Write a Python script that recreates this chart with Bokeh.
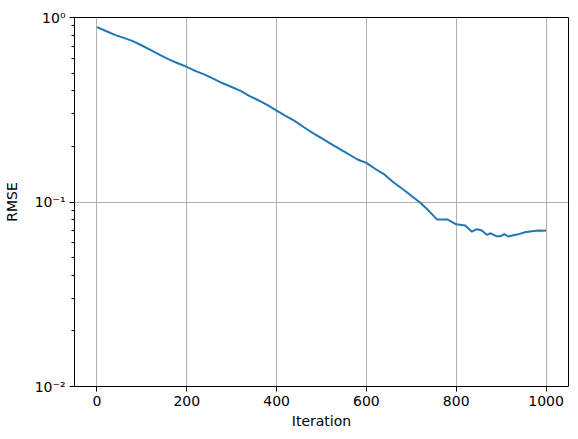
from bokeh.plotting import figure
from bokeh.models import FixedTicker, Range1d
from bokeh.embed import file_html
from bokeh.resources import INLINE

iterations = [0, 20, 40, 60, 80, 100, 120, 140, 160, 180, 200, 220, 240, 260, 280, 300,
              320, 340, 360, 380, 400, 420, 440, 460, 480, 500, 520, 540, 560, 580, 600,
              620, 640, 660, 680, 700, 720, 740, 757, 780, 800, 820, 835, 846, 857, 868,
              877, 889, 899, 907, 916, 927, 938, 953, 968, 983, 994, 1000]
rmse = [0.886, 0.845, 0.805, 0.775, 0.745, 0.705, 0.665, 0.628, 0.593, 0.565, 0.540, 0.512,
        0.49, 0.465, 0.44, 0.42, 0.40, 0.375, 0.355, 0.335, 0.313, 0.293, 0.275, 0.255,
        0.237, 0.222, 0.207, 0.194, 0.182, 0.170, 0.163, 0.151, 0.141, 0.128, 0.118,
        0.108, 0.099, 0.089, 0.0805, 0.0805, 0.0757, 0.0745, 0.069, 0.0712, 0.070,
        0.0664, 0.0677, 0.0653, 0.0653, 0.067, 0.065, 0.0661, 0.0668, 0.0686, 0.0695,
        0.0700, 0.0698, 0.070]

x_ticks = [0, 200, 400, 600, 800, 1000]
y_ticks = [0.01, 0.1, 1.0]
y_tick_labels = {0.01: "10⁻²", 0.1: "10⁻¹", 1.0: "10⁰"}
y_minor = [m * d for d in (0.01, 0.1) for m in range(2, 10)]

p = figure(width=570, height=431, y_axis_type="log",
           x_range=Range1d(-50, 1050), y_range=Range1d(0.01, 1.0),
           output_backend="svg", toolbar_location=None,
           min_border_left=73, min_border_right=2, min_border_top=17, min_border_bottom=45)

p.line(iterations, rmse, line_color="#1f77b4", line_width=2)

p.outline_line_color = "black"
p.outline_line_width = 1
p.outline_line_alpha = 1.0

p.xaxis.ticker = FixedTicker(ticks=x_ticks)
p.yaxis.ticker = FixedTicker(ticks=y_ticks, minor_ticks=y_minor)
p.yaxis.major_label_overrides = {k: v for k, v in y_tick_labels.items()}

for ax in (p.xaxis, p.yaxis):
    ax.axis_line_color = None
    ax.major_tick_in = 0
    ax.major_tick_out = 5
    ax.major_tick_line_color = "black"
    ax.major_label_text_font = "DejaVu Sans"
    ax.major_label_text_font_size = "14px"
    ax.major_label_text_color = "black"
    ax.axis_label_text_font = "DejaVu Sans"
    ax.axis_label_text_font_size = "14px"
    ax.axis_label_text_font_style = "normal"
    ax.axis_label_text_color = "black"
    ax.major_label_standoff = 4

p.xaxis.minor_tick_line_color = None
p.yaxis.minor_tick_in = 0
p.yaxis.minor_tick_out = 3
p.yaxis.minor_tick_line_color = "black"

p.xaxis.axis_label = "Iteration"
p.yaxis.axis_label = "RMSE"
p.xaxis.axis_label_standoff = 4
p.yaxis.axis_label_standoff = 12

p.xgrid.ticker = FixedTicker(ticks=x_ticks)
p.ygrid.ticker = FixedTicker(ticks=y_ticks)
for g in (p.xgrid, p.ygrid):
    g.grid_line_color = "#b0b0b0"
    g.grid_line_width = 1

open("out.html", "w").write(file_html(p, INLINE))
